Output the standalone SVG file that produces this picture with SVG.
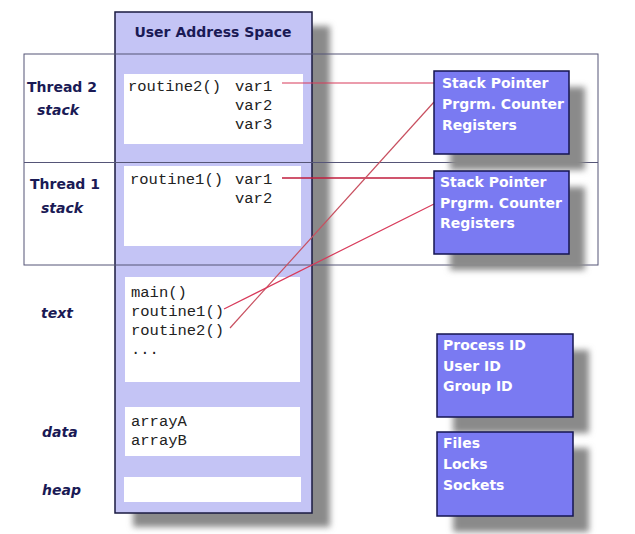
<svg xmlns="http://www.w3.org/2000/svg" width="635" height="534" viewBox="0 0 635 534">
<defs>
<filter id="blur" x="-20%" y="-20%" width="140%" height="140%"><feGaussianBlur stdDeviation="3"/></filter>
</defs>
<style>
.lbl{font-family:"DejaVu Sans",Verdana,sans-serif;font-weight:bold;font-size:14px;fill:#1a1a55}
.it{font-style:italic}
.mono{font-family:"Liberation Mono","Courier New",monospace;font-size:15.5px;fill:#222}
.bt{font-family:"DejaVu Sans",Verdana,sans-serif;font-weight:bold;font-size:14px;fill:#ffffff}
.shadow{fill:#8a8a8a;filter:url(#blur)}
.wbox{fill:#ffffff}
.pbox{fill:#7a7af2;stroke:#141450;stroke-width:1.5}
.conn{fill:none;stroke:#d83a5a;stroke-width:1.2}
</style>
<rect width="635" height="534" fill="#ffffff"/>

<g id="address-space">
<rect class="shadow" x="133" y="26" width="197" height="501"/>
<rect x="115" y="12" width="197" height="501" fill="#c4c4f5" stroke="#1a1a40" stroke-width="1.5"/>
<text class="lbl" x="213" y="37" text-anchor="middle">User Address Space</text>
</g>

<g id="thread2-stack">
<rect class="wbox" x="124" y="74" width="179" height="70"/>
<text class="mono" x="128" y="91">routine2()</text>
<text class="mono" x="235" y="91">var1</text>
<text class="mono" x="235" y="110">var2</text>
<text class="mono" x="235" y="129">var3</text>
<text class="lbl" x="27" y="92">Thread 2</text>
<text class="lbl it" x="37" y="115">stack</text>
</g>

<g id="thread1-stack">
<rect class="wbox" x="124" y="166" width="177" height="80"/>
<text class="mono" x="130" y="184">routine1()</text>
<text class="mono" x="235" y="184">var1</text>
<text class="mono" x="235" y="203">var2</text>
<text class="lbl" x="30" y="189">Thread 1</text>
<text class="lbl it" x="41" y="213">stack</text>
</g>

<g id="text-segment">
<rect class="wbox" x="125" y="277" width="175" height="105"/>
<text class="mono" x="131" y="297">main()</text>
<text class="mono" x="131" y="316">routine1()</text>
<text class="mono" x="131" y="335">routine2()</text>
<text class="mono" x="131" y="354">...</text>
<text class="lbl it" x="41" y="318">text</text>
</g>

<g id="data-segment">
<rect class="wbox" x="125" y="407" width="175" height="49"/>
<text class="mono" x="131" y="426">arrayA</text>
<text class="mono" x="131" y="445">arrayB</text>
<text class="lbl it" x="42" y="437">data</text>
</g>

<g id="heap-segment">
<rect class="wbox" x="124" y="477" width="177" height="25"/>
<text class="lbl it" x="42" y="495">heap</text>
</g>

<g id="thread-rows">
<rect x="24" y="54" width="574" height="211" fill="none" stroke="#555577" stroke-width="1"/>
<line x1="24" y1="162.5" x2="598" y2="162.5" stroke="#555577" stroke-width="1"/>
</g>

<g id="connectors">
<line class="conn" x1="282" y1="83" x2="434" y2="83" stroke="#e04a68"/>
<line class="conn" x1="282" y1="178" x2="434" y2="178" style="stroke:#c01c3c;stroke-width:1.6"/>
<line class="conn" x1="230" y1="328" x2="434" y2="102" style="stroke:#c85060"/>
<line class="conn" x1="224" y1="309" x2="434" y2="204"/>
</g>

<g id="thread2-regs">
<rect class="shadow" x="450" y="87" width="135" height="83"/>
<rect class="pbox" x="434" y="71" width="135" height="83"/>
<text class="bt" x="442" y="88">Stack Pointer</text>
<text class="bt" x="442" y="109">Prgrm. Counter</text>
<text class="bt" x="442" y="130">Registers</text>
</g>

<g id="thread1-regs">
<rect class="shadow" x="450" y="187" width="135" height="83"/>
<rect class="pbox" x="434" y="171" width="135" height="83"/>
<text class="bt" x="440" y="187">Stack Pointer</text>
<text class="bt" x="440" y="208">Prgrm. Counter</text>
<text class="bt" x="440" y="228">Registers</text>
</g>

<g id="process-ids">
<rect class="shadow" x="453" y="350" width="136" height="83"/>
<rect class="pbox" x="437" y="334" width="136" height="83"/>
<text class="bt" x="443" y="350">Process ID</text>
<text class="bt" x="443" y="371">User ID</text>
<text class="bt" x="443" y="391">Group ID</text>
</g>

<g id="resources">
<rect class="shadow" x="453" y="448" width="136" height="84"/>
<rect class="pbox" x="437" y="432" width="136" height="84"/>
<text class="bt" x="443" y="448">Files</text>
<text class="bt" x="443" y="469">Locks</text>
<text class="bt" x="443" y="490">Sockets</text>
</g>
</svg>
